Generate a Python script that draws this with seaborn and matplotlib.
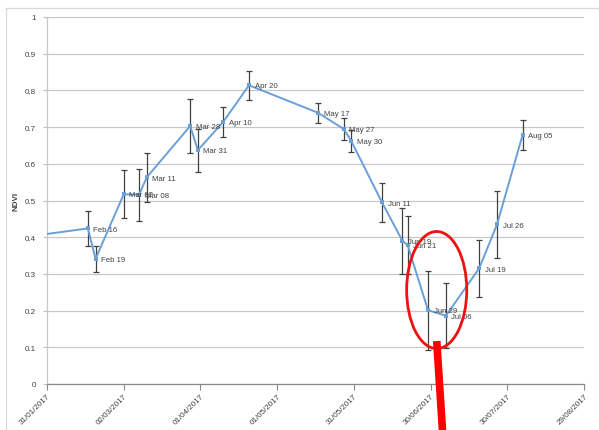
import matplotlib
matplotlib.use("Agg")
import matplotlib.pyplot as plt
import matplotlib.dates as mdates
from matplotlib.patches import Ellipse
from matplotlib.lines import Line2D
import seaborn as sns
import pandas as pd
import numpy as np

# ---- data ----
dates = ["2017-01-27", "2017-02-16", "2017-02-19", "2017-03-02", "2017-03-08",
         "2017-03-11", "2017-03-28", "2017-03-31", "2017-04-10", "2017-04-20",
         "2017-05-17", "2017-05-27", "2017-05-30", "2017-06-11", "2017-06-19",
         "2017-06-21", "2017-06-29", "2017-07-06", "2017-07-19", "2017-07-26",
         "2017-08-05"]
point_labels = ["", "Feb 16", "Feb 19", "Mar 02", "Mar 08", "Mar 11", "Mar 28",
                "Mar 31", "Apr 10", "Apr 20", "May 17", "May 27", "May 30",
                "Jun 11", "Jun 19", "Jun 21", "Jun 29", "Jul 06", "Jul 19",
                "Jul 26", "Aug 05"]
ndvi = [0.405, 0.424, 0.341, 0.517, 0.516, 0.563, 0.703, 0.637, 0.715, 0.814,
        0.739, 0.695, 0.662, 0.495, 0.390, 0.379, 0.201, 0.186, 0.315, 0.435,
        0.679]
ndvi_err = [0.0, 0.048, 0.036, 0.065, 0.071, 0.066, 0.074, 0.058, 0.041, 0.040,
            0.027, 0.030, 0.031, 0.053, 0.090, 0.078, 0.107, 0.088, 0.077, 0.092,
            0.041]
tick_dates = ["2017-01-31", "2017-03-02", "2017-04-01", "2017-05-01",
              "2017-05-31", "2017-06-30", "2017-07-30", "2017-08-29"]
y_ticks = [0, 0.1, 0.2, 0.3, 0.4, 0.5, 0.6, 0.7, 0.8, 0.9, 1]
y_tick_labels = ["0", "0.1", "0.2", "0.3", "0.4", "0.5", "0.6", "0.7", "0.8", "0.9", "1"]
# highlight annotation (ellipse centre/size, pointer line ends)
ellipse_center = ("2017-07-02", 0.256)
ellipse_size_days = 23.5
ellipse_height = 0.319
pointer_start = ("2017-07-02", 0.117)
pointer_end = ("2017-07-04", -0.13)

df = pd.DataFrame({"date": pd.to_datetime(dates), "ndvi": ndvi,
                   "err": ndvi_err, "label": point_labels})

sns.set_theme(style="white")
plt.rcParams["font.family"] = ["Liberation Sans", "DejaVu Sans"]

fig = plt.figure(figsize=(5.99, 4.31), dpi=100)
ax = fig.add_axes([47/599, 1-385/431, (584-47)/599, (385-18)/431])

line_color = "#6a9fd8"
ax.errorbar(df["date"], df["ndvi"], yerr=df["err"], fmt="none",
            ecolor="#404040", elinewidth=0.9, capsize=2.0, capthick=0.9, zorder=2)
sns.lineplot(data=df, x="date", y="ndvi", ax=ax, color=line_color,
             linewidth=1.4, marker="s", markersize=3.2, markeredgewidth=0,
             zorder=3, sort=False)

for d, v, lab in zip(df["date"], df["ndvi"], df["label"]):
    if lab:
        ax.annotate(lab, (d, v), xytext=(4, -0.5), textcoords="offset points",
                    fontsize=5.6, color="#404040", va="center", ha="left", zorder=4)

xmin = pd.Timestamp(tick_dates[0])
xmax = pd.Timestamp(tick_dates[-1])
ax.set_xlim(xmin, xmax)
ax.set_ylim(0, 1)
ax.set_xticks(pd.to_datetime(tick_dates))
ax.xaxis.set_major_formatter(mdates.DateFormatter("%d/%m/%Y"))
ax.set_yticks(y_ticks)
ax.set_yticklabels(y_tick_labels)
plt.setp(ax.get_xticklabels(), rotation=45, ha="right", rotation_mode="anchor")
ax.tick_params(axis="x", labelsize=5.8, labelcolor="#404040", length=4,
               color="#888888", width=0.8, direction="out", pad=2, bottom=True)
ax.tick_params(axis="y", labelsize=5.8, labelcolor="#404040", length=3,
               color="#c0c0c0", width=0.8, direction="out", pad=5, left=True)
ax.grid(axis="y", color="#c8c8c8", linewidth=0.9)
ax.grid(axis="x", visible=False)
for s in ["top", "right"]:
    ax.spines[s].set_visible(False)
ax.spines["left"].set_color("#c8c8c8")
ax.spines["left"].set_linewidth(0.9)
ax.spines["bottom"].set_color("#888888")
ax.spines["bottom"].set_linewidth(0.9)
ax.set_xlabel("")
ax.set_ylabel("NDVI", fontsize=5.8, fontweight="bold", color="#404040", labelpad=4)

# red highlight
ec = mdates.date2num(pd.Timestamp(ellipse_center[0])) + 0.4
ell = Ellipse((ec, ellipse_center[1]), width=ellipse_size_days, height=ellipse_height,
              fill=False, edgecolor="#ee1111", linewidth=2.0, zorder=5)
ax.add_patch(ell)
ps = mdates.date2num(pd.Timestamp(pointer_start[0])) + 0.4
pe = mdates.date2num(pd.Timestamp(pointer_end[0])) + 0.7
ax.add_line(Line2D([ps, pe], [pointer_start[1], pointer_end[1]], color="#ff0000",
                   linewidth=5.5, solid_capstyle="butt", clip_on=False, zorder=6))

# chart border (Excel-like)
fig.add_artist(Line2D([6/599, 6/599], [0, 1-9/431], color="#d9d9d9", linewidth=0.9))
fig.add_artist(Line2D([6/599, 1], [1-9/431, 1-9/431], color="#d9d9d9", linewidth=0.9))

fig.savefig("out.png", dpi=100)
